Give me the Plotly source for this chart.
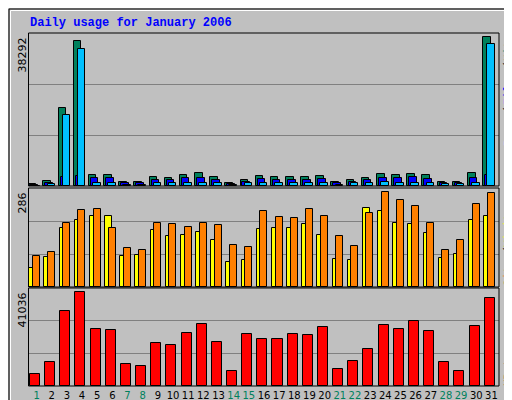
import plotly.graph_objects as go

days = list(range(1, 32))
day_labels = [str(d) for d in days]
weekend_days = [1, 7, 8, 14, 15, 21, 22, 28, 29]

hits = [500, 1300, 20045, 37190, 2780, 2780, 1000, 1000, 2270, 2020, 2780, 3280, 2270, 750, 1500,
        2520, 2270, 2270, 2270, 2520, 1000, 1500, 2020, 3030, 2780, 3030, 2780, 1000, 1000, 3280, 38292]
files = [300, 900, 2330, 2660, 2000, 2000, 700, 700, 1600, 1500, 2000, 2000, 1500, 500, 1100,
         1700, 1600, 1600, 1600, 1800, 700, 1100, 1500, 2100, 2000, 2300, 1900, 700, 700, 2000, 2850]
pages = [100, 500, 18170, 35210, 900, 900, 250, 250, 700, 700, 900, 900, 700, 200, 700,
         800, 800, 800, 800, 800, 250, 700, 700, 1000, 900, 900, 900, 400, 400, 900, 36490]
sites = [58, 90, 177, 202, 214, 214, 93, 96, 171, 155, 158, 167, 143, 77, 83,
         174, 177, 177, 189, 158, 86, 83, 239, 230, 192, 189, 164, 89, 99, 202, 214]
visits = [93, 105, 192, 233, 236, 177, 118, 111, 192, 189, 180, 192, 186, 127, 121,
          230, 211, 208, 236, 214, 155, 124, 224, 286, 264, 245, 192, 111, 143, 252, 283]
kbytes = [5088, 10476, 32923, 41036, 24842, 24393, 9578, 8680, 19006, 18108, 23046, 27087, 19455, 6435, 22597,
          20801, 20801, 22597, 22148, 25740, 7333, 10925, 16312, 26638, 24842, 28434, 23944, 10476, 6435, 26189, 38759]

MONO = "Liberation Mono"
W, H = 512, 400
def py(p): return 1 - p / H
def px(p): return p / W

fig = go.Figure()
line = dict(color="black", width=1)
def bar(y, color, offset, width, xa, ya):
    fig.add_trace(go.Bar(x=days, y=y, marker=dict(color=color, line=line), offset=offset,
                         width=width, xaxis=xa, yaxis=ya, showlegend=False, hoverinfo="skip"))

bar(hits, "#00805C", -0.55, 0.5, "x", "y")
bar(files, "#0000FF", -0.42, 0.5, "x", "y")
bar(pages, "#00C0FF", -0.28, 0.5, "x", "y")
bar(sites, "#FFFF00", -0.48, 0.46, "x2", "y2")
bar(visits, "#FF8000", -0.24, 0.46, "x2", "y2")
bar(kbytes, "#FF0000", -0.44, 0.66, "x3", "y3")

R1, R2, R3 = 39320, 299, 42920
xdom = [px(21), px(491)]
ticktext = [f'<span style="color:{"#00805C" if d in weekend_days else "black"}">{d}</span>' for d in days]
common_x = dict(domain=xdom, range=[0.5, 31.5], showgrid=False, zeroline=False, fixedrange=True)
fig.update_layout(
    width=W, height=H, margin=dict(l=0, r=0, t=0, b=0),
    paper_bgcolor="#C0C0C0", plot_bgcolor="#C0C0C0", barmode="overlay", bargap=0,
    xaxis=dict(**common_x, anchor="y", showticklabels=False),
    xaxis2=dict(**common_x, anchor="y2", showticklabels=False),
    xaxis3=dict(**common_x, anchor="y3", tickmode="array", tickvals=days, ticktext=ticktext,
                tickangle=0, tickfont=dict(family="DejaVu Sans", size=10), ticks="", ticklabelstandoff=2),
    yaxis=dict(domain=[py(178), py(25)], range=[0, R1], tickvals=[R1 / 3, 2 * R1 / 3],
               showticklabels=False, gridcolor="#808080", zeroline=False),
    yaxis2=dict(domain=[py(279), py(180)], range=[0, R2], tickvals=[R2 / 3, 2 * R2 / 3],
                showticklabels=False, gridcolor="#808080", zeroline=False),
    yaxis3=dict(domain=[py(378), py(280)], range=[0, R3], tickvals=[R3 / 3, 2 * R3 / 3],
                showticklabels=False, gridcolor="#808080", zeroline=False),
)

shapes = [
    dict(type="rect", xref="paper", yref="paper", x0=px(1), x1=px(511), y0=py(399), y1=py(1),
         line=dict(color="black", width=1)),
    dict(type="rect", xref="paper", yref="paper", x0=px(2.5), x1=px(508.5), y0=py(397), y1=py(2.5),
         line=dict(color="white", width=1)),
]
for top, bot in [(25, 178), (180, 279), (280, 378)]:
    shapes.append(dict(type="rect", xref="paper", yref="paper", x0=px(20.5), x1=px(491), y0=py(bot), y1=py(top),
                       line=dict(color="black", width=1), layer="above"))
fig.update_layout(shapes=shapes)

anns = [
    dict(x=px(20), y=py(15), text="<b>Daily usage for January 2006</b>", xanchor="left", yanchor="middle",
         font=dict(family=MONO, size=12, color="#0000FF")),
    dict(x=px(14), y=py(28), text="38292", textangle=-90, xanchor="center", yanchor="top",
         font=dict(family="DejaVu Sans", size=11, color="black")),
    dict(x=px(14), y=py(183), text="286", textangle=-90, xanchor="center", yanchor="top",
         font=dict(family="DejaVu Sans", size=11, color="black")),
    dict(x=px(14), y=py(283), text="41036", textangle=-90, xanchor="center", yanchor="top",
         font=dict(family="DejaVu Sans", size=11, color="black")),
]
right_words = [
    ("Hits", 40, "#00805C"), ("/", 58, "black"), ("Files", 81, "#0000FF"), ("/", 103, "black"),
    ("Pages", 122, "#00C0FF"),
    ("Visits", 219, "#FFFF00"), ("/", 243, "black"), ("Sites", 262, "#FF8000"),
    ("KBytes", 358, "#FF0000"),
]
for word, ymid, color in right_words:
    anns.append(dict(x=px(500), y=py(ymid), text=word, textangle=-90, xanchor="center", yanchor="middle",
                     font=dict(family=MONO, size=11, color=color)))
for a in anns:
    a.update(xref="paper", yref="paper", showarrow=False)
fig.update_layout(annotations=anns)

fig.write_html("out.html")
